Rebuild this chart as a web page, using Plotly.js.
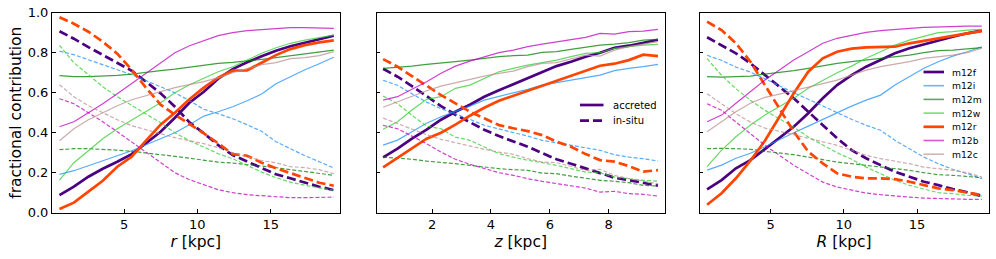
<!DOCTYPE html>
<html>
<head>
<meta charset="utf-8">
<script src="https://cdn.plot.ly/plotly-3.0.1.min.js"></script>
<style>html,body{margin:0;padding:0;background:#fff;}#plot{width:996px;height:259px;}</style>
</head>
<body>
<div id="plot"></div>
<script>
// ---------- x grids ----------
const r = [0.6,1.58,2.57,3.55,4.54,5.52,6.5,7.49,8.47,9.46,10.44,11.42,12.41,13.39,14.38,15.36,16.34,17.33,18.31,19.3];
const z = [0.33,0.82,1.31,1.81,2.30,2.79,3.28,3.77,4.27,4.76,5.25,5.74,6.23,6.72,7.22,7.71,8.20,8.69,9.18,9.68];
const R = [0.66,1.65,2.63,3.62,4.61,5.60,6.58,7.57,8.56,9.54,10.53,11.52,12.51,13.49,14.48,15.47,16.45,17.44,18.43,19.42];

const galaxies = ['m12f','m12i','m12m','m12w','m12r','m12b','m12c'];
const yTitle = 'fractional contribution';

// ---------- panel r ----------
const r_m12f_acc = [0.088,0.13,0.18,0.22,0.255,0.293,0.347,0.405,0.475,0.55,0.605,0.67,0.718,0.752,0.782,0.81,0.832,0.851,0.866,0.885];
const r_m12f_ins = [0.907,0.87,0.828,0.79,0.75,0.71,0.655,0.597,0.53,0.452,0.397,0.338,0.288,0.255,0.222,0.192,0.172,0.15,0.13,0.113];
const r_m12i_acc = [0.192,0.21,0.235,0.26,0.285,0.31,0.34,0.37,0.40,0.44,0.483,0.505,0.53,0.56,0.593,0.645,0.68,0.715,0.745,0.777];
const r_m12i_ins = [0.808,0.79,0.765,0.74,0.715,0.69,0.66,0.63,0.60,0.56,0.517,0.495,0.47,0.44,0.407,0.355,0.32,0.285,0.255,0.223];
const r_m12m_acc = [0.685,0.68,0.68,0.682,0.687,0.693,0.703,0.71,0.718,0.727,0.738,0.747,0.752,0.758,0.767,0.775,0.785,0.793,0.802,0.813];
const r_m12m_ins = [0.315,0.32,0.32,0.318,0.313,0.307,0.297,0.29,0.282,0.273,0.262,0.253,0.248,0.242,0.233,0.225,0.215,0.207,0.198,0.187];
const r_m12w_acc = [0.163,0.25,0.31,0.37,0.42,0.463,0.51,0.55,0.6,0.64,0.672,0.705,0.73,0.763,0.797,0.825,0.847,0.863,0.877,0.888];
const r_m12w_ins = [0.837,0.75,0.69,0.63,0.58,0.537,0.49,0.45,0.4,0.36,0.328,0.295,0.27,0.237,0.203,0.175,0.153,0.137,0.123,0.112];
const r_m12r_acc = [0.018,0.05,0.105,0.16,0.23,0.28,0.36,0.44,0.5,0.567,0.625,0.675,0.71,0.712,0.75,0.788,0.818,0.838,0.852,0.862];
const r_m12r_ins = [0.977,0.945,0.905,0.855,0.795,0.715,0.625,0.54,0.49,0.445,0.397,0.347,0.293,0.285,0.25,0.222,0.197,0.172,0.15,0.135];
const r_m12b_acc = [0.43,0.455,0.50,0.545,0.595,0.645,0.695,0.75,0.80,0.835,0.86,0.885,0.90,0.91,0.915,0.92,0.925,0.925,0.925,0.922];
const r_m12b_ins = [0.57,0.545,0.5,0.455,0.405,0.355,0.305,0.25,0.2,0.165,0.14,0.115,0.1,0.09,0.085,0.08,0.075,0.075,0.075,0.078];
const r_m12c_acc = [0.36,0.42,0.465,0.50,0.535,0.565,0.585,0.605,0.625,0.64,0.655,0.675,0.70,0.72,0.74,0.75,0.77,0.775,0.785,0.805];
const r_m12c_ins = [0.64,0.58,0.535,0.5,0.465,0.435,0.415,0.395,0.375,0.36,0.345,0.325,0.3,0.28,0.26,0.25,0.23,0.225,0.215,0.195];

// ---------- panel z ----------
const z_m12f_acc = [0.277,0.32,0.37,0.415,0.465,0.505,0.54,0.58,0.612,0.642,0.672,0.705,0.733,0.755,0.78,0.80,0.825,0.835,0.85,0.865];
const z_m12f_ins = [0.72,0.68,0.633,0.583,0.533,0.49,0.452,0.415,0.383,0.358,0.33,0.298,0.267,0.245,0.222,0.198,0.175,0.163,0.15,0.135];
const z_m12i_acc = [0.338,0.363,0.405,0.447,0.48,0.505,0.533,0.563,0.58,0.597,0.617,0.638,0.65,0.663,0.677,0.688,0.71,0.722,0.73,0.742];
const z_m12i_ins = [0.662,0.637,0.595,0.553,0.52,0.495,0.467,0.437,0.42,0.403,0.383,0.362,0.35,0.337,0.323,0.312,0.29,0.278,0.27,0.258];
const z_m12m_acc = [0.722,0.727,0.733,0.742,0.747,0.755,0.763,0.772,0.78,0.785,0.788,0.802,0.805,0.817,0.827,0.838,0.843,0.85,0.863,0.867];
const z_m12m_ins = [0.278,0.273,0.267,0.258,0.253,0.245,0.237,0.228,0.22,0.215,0.212,0.198,0.195,0.183,0.173,0.162,0.157,0.15,0.137,0.133];
const z_m12w_acc = [0.417,0.455,0.513,0.567,0.58,0.622,0.638,0.672,0.705,0.722,0.738,0.75,0.763,0.78,0.797,0.80,0.822,0.83,0.838,0.842];
const z_m12w_ins = [0.583,0.545,0.487,0.433,0.42,0.378,0.362,0.328,0.295,0.278,0.262,0.25,0.237,0.22,0.203,0.2,0.178,0.17,0.162,0.158];
const z_m12r_acc = [0.227,0.275,0.325,0.37,0.40,0.44,0.485,0.525,0.56,0.585,0.61,0.635,0.66,0.685,0.71,0.735,0.745,0.763,0.79,0.783];
const z_m12r_ins = [0.768,0.73,0.683,0.633,0.588,0.547,0.505,0.472,0.438,0.422,0.408,0.388,0.355,0.33,0.293,0.263,0.255,0.233,0.205,0.213];
const z_m12b_acc = [0.563,0.58,0.617,0.655,0.697,0.733,0.758,0.78,0.80,0.813,0.83,0.843,0.855,0.867,0.877,0.897,0.893,0.905,0.908,0.917];
const z_m12b_ins = [0.437,0.42,0.383,0.345,0.303,0.267,0.242,0.22,0.2,0.187,0.17,0.157,0.145,0.133,0.123,0.103,0.107,0.095,0.092,0.083];
const z_m12c_acc = [0.527,0.555,0.58,0.61,0.633,0.65,0.667,0.683,0.697,0.708,0.73,0.747,0.75,0.767,0.788,0.783,0.813,0.83,0.843,0.855];
const z_m12c_ins = [0.473,0.445,0.42,0.39,0.367,0.35,0.333,0.317,0.303,0.292,0.27,0.253,0.25,0.233,0.212,0.217,0.187,0.17,0.157,0.145];

// ---------- panel R ----------
const R_m12f_acc = [0.117,0.163,0.222,0.263,0.318,0.372,0.43,0.497,0.572,0.638,0.688,0.73,0.763,0.797,0.822,0.842,0.86,0.88,0.897,0.91];
const R_m12f_ins = [0.877,0.838,0.797,0.747,0.688,0.63,0.572,0.505,0.438,0.372,0.313,0.272,0.238,0.205,0.18,0.155,0.138,0.118,0.102,0.083];
const R_m12i_acc = [0.213,0.238,0.272,0.297,0.33,0.367,0.40,0.433,0.467,0.50,0.533,0.563,0.588,0.638,0.68,0.722,0.755,0.783,0.805,0.83];
const R_m12i_ins = [0.787,0.762,0.728,0.703,0.67,0.633,0.6,0.567,0.533,0.5,0.467,0.437,0.412,0.362,0.32,0.278,0.245,0.217,0.195,0.17];
const R_m12m_acc = [0.68,0.678,0.68,0.683,0.693,0.70,0.71,0.722,0.735,0.747,0.755,0.763,0.772,0.78,0.788,0.80,0.81,0.813,0.818,0.825];
const R_m12m_ins = [0.32,0.322,0.32,0.317,0.307,0.3,0.29,0.278,0.265,0.253,0.245,0.237,0.228,0.22,0.212,0.2,0.19,0.187,0.182,0.175];
const R_m12w_acc = [0.23,0.313,0.38,0.438,0.488,0.53,0.572,0.622,0.663,0.70,0.733,0.772,0.805,0.838,0.863,0.883,0.90,0.905,0.913,0.917];
const R_m12w_ins = [0.77,0.687,0.62,0.562,0.512,0.47,0.428,0.378,0.337,0.3,0.267,0.228,0.195,0.162,0.137,0.117,0.1,0.095,0.087,0.083];
const R_m12r_acc = [0.04,0.097,0.172,0.26,0.36,0.48,0.597,0.705,0.772,0.805,0.82,0.827,0.827,0.83,0.847,0.86,0.872,0.883,0.897,0.908];
const R_m12r_ins = [0.955,0.913,0.847,0.755,0.638,0.522,0.405,0.305,0.247,0.197,0.18,0.172,0.172,0.168,0.155,0.138,0.122,0.113,0.102,0.088];
const R_m12b_acc = [0.455,0.488,0.547,0.605,0.663,0.713,0.763,0.805,0.847,0.872,0.888,0.902,0.91,0.917,0.922,0.927,0.93,0.932,0.933,0.933];
const R_m12b_ins = [0.545,0.512,0.453,0.395,0.337,0.287,0.237,0.195,0.153,0.128,0.112,0.098,0.09,0.083,0.078,0.073,0.07,0.068,0.067,0.067];
const R_m12c_acc = [0.405,0.455,0.505,0.547,0.577,0.593,0.61,0.627,0.643,0.663,0.688,0.713,0.73,0.743,0.755,0.772,0.78,0.788,0.80,0.822];
const R_m12c_ins = [0.595,0.545,0.495,0.453,0.423,0.407,0.39,0.373,0.357,0.337,0.312,0.287,0.27,0.257,0.245,0.228,0.22,0.212,0.2,0.178];

// ---------- styles ----------
const colors = {m12f:'#4B0082', m12i:'#1E90FF', m12m:'#008000', m12w:'#32CD32', m12r:'#FF4500', m12b:'#BF00BF', m12c:'#BC8F8F'};
const thick = {m12f:true, m12r:true};
const THICK_W = 2.7, THIN_W = 1.2;
const THIN_OP = 0.75;
const DASH_THICK = '9px,4px', DASH_THIN = '4px,2px';

const panels = [
  {x:r, name:'r', xa:'x',  ya:'y'},
  {x:z, name:'z', xa:'x2', ya:'y2'},
  {x:R, name:'R', xa:'x3', ya:'y3'}
];
const dataTable = {
  r: {m12f:[r_m12f_acc,r_m12f_ins], m12i:[r_m12i_acc,r_m12i_ins], m12m:[r_m12m_acc,r_m12m_ins], m12w:[r_m12w_acc,r_m12w_ins], m12r:[r_m12r_acc,r_m12r_ins], m12b:[r_m12b_acc,r_m12b_ins], m12c:[r_m12c_acc,r_m12c_ins]},
  z: {m12f:[z_m12f_acc,z_m12f_ins], m12i:[z_m12i_acc,z_m12i_ins], m12m:[z_m12m_acc,z_m12m_ins], m12w:[z_m12w_acc,z_m12w_ins], m12r:[z_m12r_acc,z_m12r_ins], m12b:[z_m12b_acc,z_m12b_ins], m12c:[z_m12c_acc,z_m12c_ins]},
  R: {m12f:[R_m12f_acc,R_m12f_ins], m12i:[R_m12i_acc,R_m12i_ins], m12m:[R_m12m_acc,R_m12m_ins], m12w:[R_m12w_acc,R_m12w_ins], m12r:[R_m12r_acc,R_m12r_ins], m12b:[R_m12b_acc,R_m12b_ins], m12c:[R_m12c_acc,R_m12c_ins]}
};

const traces = [];
panels.forEach(p => {
  galaxies.forEach(g => {
    [0,1].forEach(k => {
      const th = !!thick[g];
      traces.push({
        type:'scatter', mode:'lines', x:p.x, y:dataTable[p.name][g][k],
        xaxis:p.xa, yaxis:p.ya, showlegend:false, hoverinfo:'skip',
        opacity: th ? 1 : THIN_OP,
        line:{color:colors[g], width: th ? THICK_W : THIN_W, dash: k===0 ? 'solid' : (th ? DASH_THICK : DASH_THIN)}
      });
    });
  });
});

// ---------- layout ----------
const W = 996, H = 259;
const px = v => v / W, py = v => 1 - v / H;
const FONT = 'DejaVu Sans, sans-serif';
const yDom = [py(212.7), py(12.7)];

function xAxis(dom, range, dtick, title) {
  return {domain:dom, range:range, dtick:dtick, tick0:0, ticks:'inside', ticklen:3.5, tickwidth:1, tickcolor:'#000',
    showline:true, mirror:true, linecolor:'#000', linewidth:1, showgrid:false, zeroline:false,
    tickfont:{family:FONT, size:13, color:'#000'},
    title:{text:title, font:{family:FONT, size:15.5, color:'#000'}, standoff:4}};
}
function yAxis(anchor, labels) {
  return {domain:yDom, anchor:anchor, range:[0,1], dtick:0.2, tick0:0, tickformat:'.1f', ticks:'inside', ticklen:3.5, tickwidth:1, tickcolor:'#000',
    showline:true, mirror:true, linecolor:'#000', linewidth:1, showgrid:false, zeroline:false, showticklabels:labels,
    tickfont:{family:FONT, size:13, color:'#000'},
    title: labels ? {text:yTitle, font:{family:FONT, size:15.5, color:'#000'}, standoff:2} : {text:''}};
}

const shapes = [], annotations = [];
// legend: components (panel z)
[['accreted','solid',105],['in-situ',DASH_THICK,120.7]].forEach(([lab,dash,yy]) => {
  shapes.push({type:'line', xref:'paper', yref:'paper', x0:px(580), x1:px(603.5), y0:py(yy), y1:py(yy),
    line:{color:colors.m12f, width:THICK_W, dash:dash}});
  annotations.push({xref:'paper', yref:'paper', x:px(610.5), y:py(yy), xanchor:'left', yanchor:'middle', showarrow:false,
    text:lab, font:{family:FONT, size:10, color:'#000'}});
});
// legend: galaxies (panel R)
galaxies.forEach((g,i) => {
  const yy = 72 + i*13.7;
  const th = !!thick[g];
  shapes.push({type:'line', xref:'paper', yref:'paper', x0:px(923.5), x1:px(944), y0:py(yy), y1:py(yy),
    opacity: th ? 1 : 0.65, line:{color:colors[g], width: th ? THICK_W : 1.6}});
  annotations.push({xref:'paper', yref:'paper', x:px(950), y:py(yy), xanchor:'left', yanchor:'middle', showarrow:false,
    text:g, font:{family:FONT, size:9.2, color:'#000'}});
});

const layout = {
  width:W, height:H, margin:{l:0,r:0,t:0,b:0,pad:0},
  paper_bgcolor:'#fff', plot_bgcolor:'#fff', showlegend:false,
  font:{family:FONT, color:'#000'},
  xaxis:  Object.assign(xAxis([px(52), px(339.5)], [0.09, 19.69], 5, '<i>r</i> [kpc]'), {anchor:'y'}),
  xaxis2: Object.assign(xAxis([px(376.5), px(665)], [0.105, 9.92], 2, '<i>z</i> [kpc]'), {anchor:'y2'}),
  xaxis3: Object.assign(xAxis([px(699.5), px(988.5)], [0.143, 19.88], 5, '<i>R</i> [kpc]'), {anchor:'y3'}),
  yaxis:  yAxis('x', true),
  yaxis2: yAxis('x2', false),
  yaxis3: yAxis('x3', false),
  shapes:shapes, annotations:annotations
};

Plotly.newPlot('plot', traces, layout, {staticPlot:true, displayModeBar:false});
</script>
</body>
</html>
